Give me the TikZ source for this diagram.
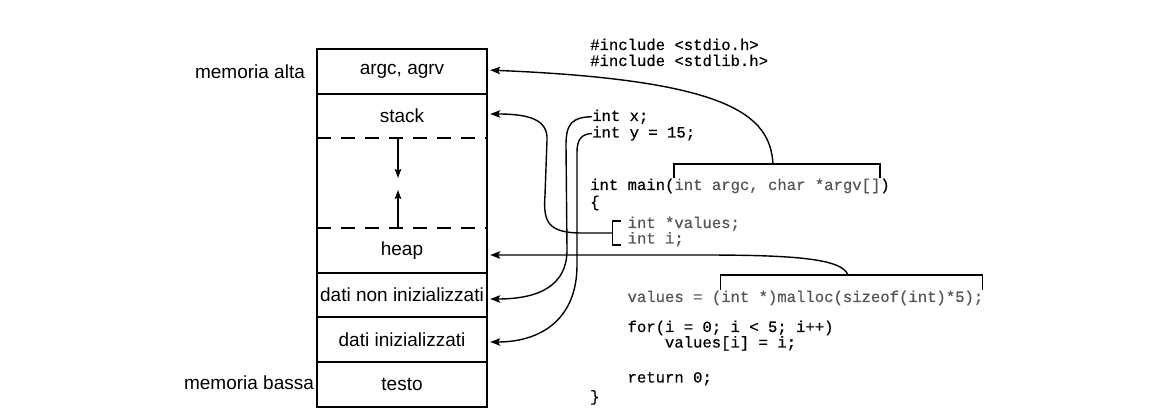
\documentclass[tikz,border=0pt]{standalone}
\usepackage{fontspec}
\setmainfont{Liberation Sans}
\newfontfamily\codefont[FakeBold=0.5]{Liberation Mono}
\usetikzlibrary{arrows.meta}
\definecolor{codegray}{RGB}{85,85,85}
\begin{document}
\begin{tikzpicture}[x=1pt,y=-1pt,
  boxline/.style={line width=1.2pt, black},
  memrow/.style={minimum width=170pt, inner sep=0pt, font=\fontsize{19}{22}\selectfont},
  sidelabel/.style={inner sep=0pt, font=\fontsize{19}{22}\selectfont},
  codeline/.style={inner sep=0pt, anchor=base west, font=\codefont\fontsize{15.6}{18}\selectfont},
  graycode/.style={codeline, text=codegray},
  conn/.style={line width=1.4pt, -{Stealth[length=10pt,width=7.5pt,inset=2pt]}, shorten >=3pt},
  brk/.style={line width=1.5pt},
  growarrow/.style={line width=1.3pt, -{Stealth[length=9pt,width=6.5pt,inset=1.5pt]}}
]
\useasboundingbox (0,0) rectangle (1152,411);

% memory segments (text)
\node[memrow, minimum height=45pt] (argc) at (402,71.5) {argc, agrv};
\node[memrow, minimum height=44pt] (stack) at (402,116) {stack};
\node[memrow, minimum height=45pt] (heap) at (402,250.5) {heap};
\node[memrow, minimum height=44pt] (dnon) at (402,295) {dati non inizializzati};
\node[memrow, minimum height=45pt] (dini) at (402,339.5) {dati inizializzati};
\node[memrow, minimum height=45pt] (testo) at (402,384.5) {testo};

\node[sidelabel] (alta) at (250,72) {memoria alta};
\node[sidelabel] (bassa) at (249,383) {memoria bassa};

% box lines
\draw[boxline] (317,49) rectangle (487,407);
\draw[boxline] (317,94) -- (487,94);
\draw[boxline] (317,273) -- (487,273);
\draw[boxline] (317,317) -- (487,317);
\draw[boxline] (317,362) -- (487,362);
\draw[boxline, dash pattern=on 14pt off 10pt] (317,138) -- (487,138);
\draw[boxline, dash pattern=on 14pt off 10pt] (317,228) -- (487,228);

% growth arrows
\coordinate (stacktop) at (398,138);
\coordinate (stacktip) at (398,178);
\coordinate (heapbot) at (398,228);
\coordinate (heaptip) at (398,190);
\draw[growarrow] (stacktop) -- (stacktip);
\draw[growarrow] (heapbot) -- (heaptip);

% code
\node[codeline] (inc1) at (590,50) {\#include <stdio.h>};
\node[codeline] (inc2) at (590,66) {\#include <stdlib.h>};
\node[codeline] (intx) at (592,121) {int x;};
\node[codeline] (inty) at (592,137.5) {int y = 15;};
\node[codeline] (main) at (590,190) {int main(\textcolor{codegray}{int argc, char *argv[]})};
\node[codeline] (open) at (590,207) {\{};
\node[graycode] (vals) at (627.4,228) {int *values;};
\node[graycode] (inti) at (627.4,243.5) {int i;};
\node[graycode] (malloc) at (627.4,302) {values = (int *)malloc(sizeof(int)*5);};
\node[codeline] (for) at (627.4,332) {for(i = 0; i < 5; i++)};
\node[codeline] (assign) at (664.8,347.5) {values[i] = i;};
\node[codeline] (ret) at (627.4,382.5) {return 0;};
\node[codeline] (close) at (590,401.5) {\}};

% brackets
\draw[brk] (674.2,178) -- (674.2,164) -- (880,164) -- (880,178);
\draw[brk] (720.5,290) -- (720.5,275) -- (982.5,275) -- (982.5,290);
\draw[brk] (621,221) -- (612.5,221) -- (612.5,245) -- (621,245);
\coordinate (argbrk) at (773,164);
\coordinate (mallocbrk) at (848,275);
\coordinate (valbrk) at (612.5,233);

% connectors
\draw[conn] (argbrk) .. controls (770,115) and (730,80) .. ([yshift=1.5pt]argc.east);
\draw[conn] (valbrk) -- (582,233) .. controls (548,233) and (543,222) .. (545,195) -- (547,140) .. controls (548,120) and (530,114) .. ([yshift=2pt]stack.east);
\draw[conn] (intx.west) .. controls (572,117) and (566,124) .. (566,145) -- (567,250) .. controls (567,285) and (540,299) .. ([yshift=-4pt]dnon.east);
\draw[conn] (inty.west) .. controls (582,134) and (577,139) .. (577,152) -- (577,265) .. controls (577,320) and (540,342) .. ([yshift=-2.5pt]dini.east);
\draw[conn] (mallocbrk) .. controls (842,258) and (790,255) .. (700,255) -- ([yshift=-4.5pt]heap.east);
\end{tikzpicture}
\end{document}
